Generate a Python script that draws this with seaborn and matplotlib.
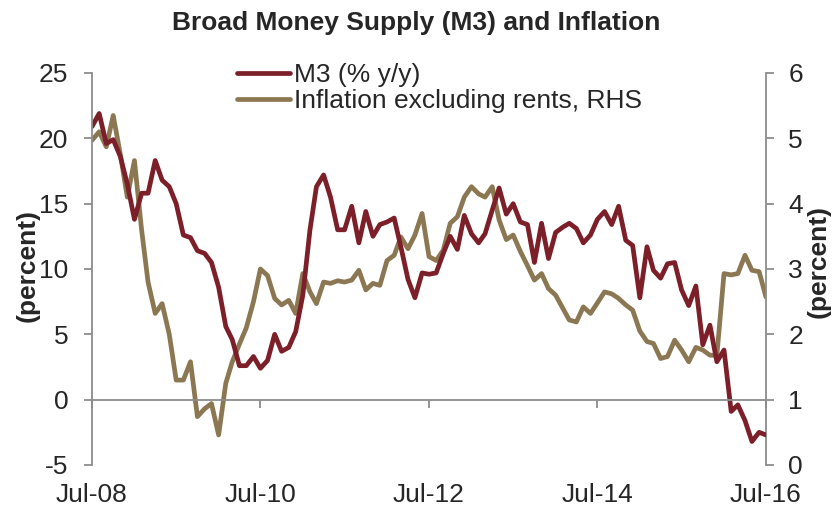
import pandas as pd
import matplotlib.pyplot as plt
import matplotlib.dates as mdates
import seaborn as sns

# monthly data, Jul-08 .. Jul-16
months = pd.date_range('2008-07-01', '2016-07-01', freq='MS')

m3_yoy = [20.9, 21.9, 19.6, 19.9, 18.6, 16.5, 13.8, 15.8, 15.8, 18.3,
          16.8, 16.3, 15.0, 12.6, 12.4, 11.4, 11.2, 10.5, 8.6, 5.6,
          4.6, 2.6, 2.6, 3.3, 2.4, 3.0, 5.0, 3.7, 4.0, 5.2,
          8.0, 13.0, 16.3, 17.2, 15.5, 13.0, 13.0, 14.8, 12.0, 14.4,
          12.5, 13.4, 13.6, 13.9, 11.7, 9.2, 7.8, 9.7, 9.6, 9.7,
          11.2, 12.5, 11.5, 14.1, 12.7, 12.0, 12.7, 14.5, 16.2, 14.2,
          15.0, 13.6, 13.4, 10.5, 13.5, 10.8, 12.8, 13.2, 13.5, 13.1,
          12.0, 12.6, 13.8, 14.4, 13.4, 14.8, 12.2, 11.8, 7.8, 11.7,
          9.9, 9.3, 10.4, 10.5, 8.4, 7.2, 8.7, 4.2, 5.7, 2.9,
          3.8, -0.9, -0.4, -1.6, -3.2, -2.5, -2.7]

infl_ex_rents = [4.97, 5.10, 4.87, 5.35, 4.75, 4.10, 4.66, 3.60, 2.80, 2.32,
                 2.47, 2.00, 1.30, 1.30, 1.58, 0.74, 0.86, 0.94, 0.46, 1.25,
                 1.58, 1.85, 2.10, 2.50, 3.00, 2.90, 2.55, 2.45, 2.52, 2.32,
                 2.93, 2.65, 2.47, 2.80, 2.78, 2.82, 2.80, 2.83, 2.98, 2.68,
                 2.78, 2.75, 3.13, 3.21, 3.49, 3.31, 3.52, 3.85, 3.19, 3.13,
                 3.29, 3.70, 3.80, 4.10, 4.26, 4.15, 4.10, 4.26, 3.75, 3.45,
                 3.52, 3.27, 3.05, 2.83, 2.93, 2.70, 2.60, 2.40, 2.22, 2.19,
                 2.42, 2.32, 2.48, 2.65, 2.62, 2.55, 2.45, 2.37, 2.05, 1.89,
                 1.86, 1.63, 1.66, 1.91, 1.76, 1.58, 1.80, 1.76, 1.68, 1.68,
                 2.93, 2.91, 2.93, 3.21, 2.98, 2.96, 2.57]

df = pd.DataFrame({'date': months, 'm3': m3_yoy, 'infl': infl_ex_rents})

red = '#7C1F29'
tan = '#8C7753'
grey = '#8C8C8C'

sns.set_style('white')
plt.rcParams['font.family'] = ['Liberation Sans', 'DejaVu Sans']
plt.rcParams['axes.unicode_minus'] = False

fig, ax = plt.subplots(figsize=(8.32, 5.08), dpi=100)
fig.subplots_adjust(left=92/832, right=766/832, top=1-73/508, bottom=1-465/508)
ax2 = ax.twinx()

sns.lineplot(data=df, x='date', y='m3', ax=ax, color=red, lw=3.4,
             label='M3 (% y/y)', legend=False)
sns.lineplot(data=df, x='date', y='infl', ax=ax2, color=tan, lw=3.4,
             label='Inflation excluding rents, RHS', legend=False)

ax.set_zorder(ax2.get_zorder() + 1)
ax.patch.set_visible(False)

ax.set_ylim(-5, 25)
ax.set_yticks(range(-5, 26, 5))
ax2.set_ylim(0, 6)
ax2.set_yticks(range(0, 7))
ax.set_xlim(months[0], months[-1])
ax.xaxis.set_major_locator(mdates.MonthLocator(bymonth=7, interval=24))
ax.xaxis.set_major_formatter(mdates.DateFormatter('%b-%y'))

for a in (ax, ax2):
    for s in a.spines.values():
        s.set_visible(False)
ax.spines['left'].set_visible(True)
ax.spines['bottom'].set_visible(True)
ax.spines['bottom'].set_position(('data', 0))
ax2.spines['right'].set_visible(True)
for s in (ax.spines['left'], ax.spines['bottom'], ax2.spines['right']):
    s.set_color(grey)
    s.set_linewidth(1.3)

ax.tick_params(axis='y', direction='out', length=6, width=1.3, color=grey,
               labelsize=19, pad=11, left=True)
ax2.tick_params(axis='y', direction='out', length=6, width=1.3, color=grey,
                labelsize=19, pad=10, right=True)
ax.tick_params(axis='x', direction='out', length=6, width=1.3, color=grey,
               labelsize=19, pad=54, bottom=True)

ax.set_xlabel('')
ax.set_ylabel('(percent)', fontsize=19, fontweight='bold')
ax2.set_ylabel('(percent)', fontsize=19, fontweight='bold', rotation=90)
ax.yaxis.set_label_coords(-0.077, 0.508)
ax2.yaxis.set_label_coords(1.061, 0.518)
ax.grid(False)
ax2.grid(False)

fig.suptitle('Broad Money Supply (M3) and Inflation', fontsize=19,
             fontweight='bold', y=1-23/508, va='center')

h1, l1 = ax.get_legend_handles_labels()
h2, l2 = ax2.get_legend_handles_labels()
ax.legend(h1 + h2, l1 + l2, loc='upper left', bbox_to_anchor=(0.2155, 1.025),
          frameon=False, fontsize=19, handlelength=2.0, handletextpad=0.15,
          labelspacing=0.08, borderaxespad=0, borderpad=0)

plt.savefig('out.png', dpi=100)
